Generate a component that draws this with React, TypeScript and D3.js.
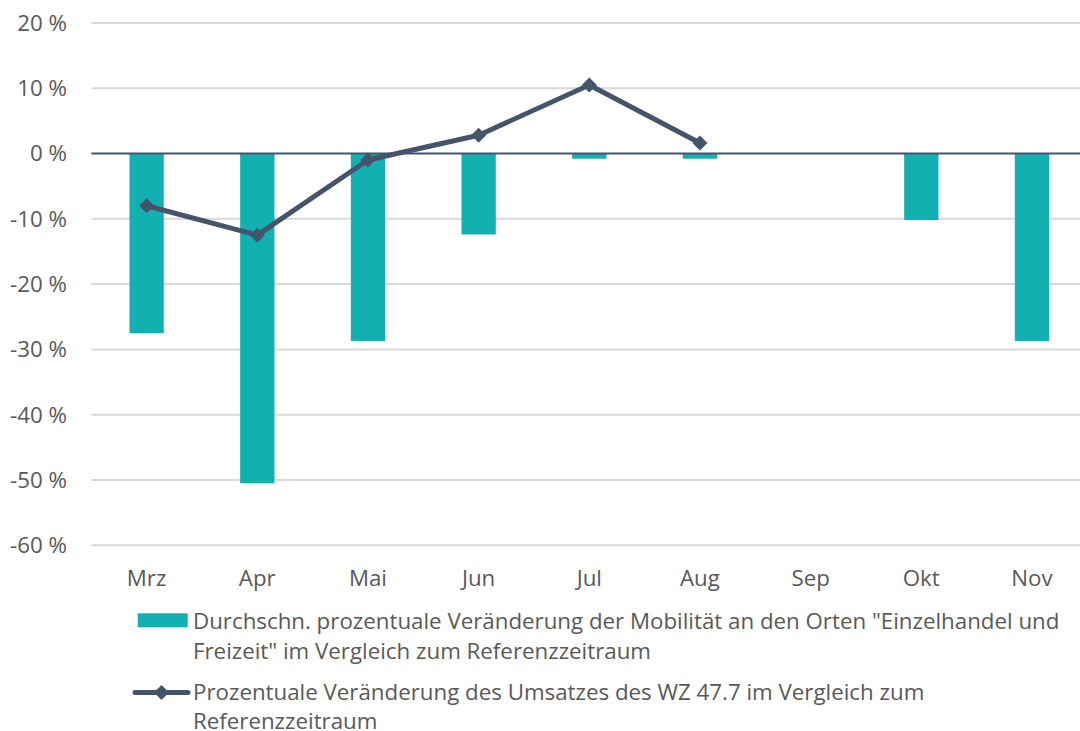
import React from "react";
import * as d3 from "d3";

const months = ["Mrz", "Apr", "Mai", "Jun", "Jul", "Aug", "Sep", "Okt", "Nov"];
const mobility: (number | null)[] = [-27.5, -50.5, -28.7, -12.4, -0.8, -0.8, null, -10.2, -28.7];
const umsatz: (number | null)[] = [-8.0, -12.5, -1.0, 2.8, 10.5, 1.6, null, null, null];
const yTicks = [20, 10, 0, -10, -20, -30, -40, -50, -60];
const legendBar = [
  'Durchschn. prozentuale Veränderung der Mobilität an den Orten "Einzelhandel und',
  'Freizeit" im Vergleich zum Referenzzeitraum',
];
const legendLine = [
  "Prozentuale Veränderung des Umsatzes des WZ 47.7 im Vergleich zum",
  "Referenzzeitraum",
];

const W = 1080;
const H = 731;
const TEAL = "#12B0B0";
const NAVY = "#44546A";
const GRID = "#D9D9D9";
const TXT = "#595959";
const FONT = "'Open Sans', sans-serif";
const FS = 22.3;

export default function App() {
  const x = d3.scaleBand<string>().domain(months).range([91.3, 1087.3]).paddingInner(0.69).paddingOuter(0.345);
  const y = d3.scaleLinear().domain([-60, 20]).range([545.3, 22.9]);
  const cx = (m: string) => (x(m) as number) + x.bandwidth() / 2;

  const linePts = months
    .map((m, i) => ({ m, v: umsatz[i] }))
    .filter((d) => d.v !== null) as { m: string; v: number }[];
  const line = d3
    .line<{ m: string; v: number }>()
    .x((d) => cx(d.m))
    .y((d) => y(d.v));

  const diamond = (px: number, py: number, r: number) =>
    `M${px},${py - r}L${px + r},${py}L${px},${py + r}L${px - r},${py}Z`;

  return (
    <svg width={W} height={H} style={{ position: "absolute", left: 0, top: 0 }} fontFamily={FONT}>
      <rect width={W} height={H} fill="#fff" />
      {yTicks.map((t) =>
        t === 0 ? null : (
          <line key={t} x1={91.3} x2={W} y1={y(t)} y2={y(t)} stroke={GRID} strokeWidth={2} />
        )
      )}
      {yTicks.map((t) => (
        <text key={"l" + t} x={67} y={y(t)} dy="0.35em" textAnchor="end" fontSize={FS} fill={TXT}>
          {`${t} %`}
        </text>
      ))}
      {months.map((m, i) => {
        const v = mobility[i];
        if (v === null) return null;
        return (
          <rect
            key={m}
            x={x(m)}
            y={y(Math.max(0, v))}
            width={x.bandwidth()}
            height={Math.abs(y(v) - y(0))}
            fill={TEAL}
          />
        );
      })}
      <line x1={91.3} x2={W} y1={y(0)} y2={y(0)} stroke={NAVY} strokeWidth={2} />
      <path d={line(linePts) || ""} fill="none" stroke={NAVY} strokeWidth={5} strokeLinejoin="round" />
      {linePts.map((d) => (
        <path key={d.m} d={diamond(cx(d.m), y(d.v), 7.5)} fill={NAVY} />
      ))}
      {months.map((m) => (
        <text key={"x" + m} x={cx(m)} y={578} dy="0.35em" textAnchor="middle" fontSize={FS} fill={TXT}>
          {m}
        </text>
      ))}
      <rect x={137.7} y={613.3} width={50} height={14} fill={TEAL} />
      {legendBar.map((s, i) => (
        <text key={"lb" + i} x={193} y={621.5 + i * 30} dy="0.35em" fontSize={FS} fill={TXT}>
          {s}
        </text>
      ))}
      <line x1={135} x2={188} y1={692.5} y2={692.5} stroke={NAVY} strokeWidth={5} strokeLinecap="round" />
      <path d={diamond(161.5, 692.5, 7.5)} fill={NAVY} />
      {legendLine.map((s, i) => (
        <text key={"ll" + i} x={193} y={692 + i * 29.5} dy="0.35em" fontSize={FS} fill={TXT}>
          {s}
        </text>
      ))}
    </svg>
  );
}
